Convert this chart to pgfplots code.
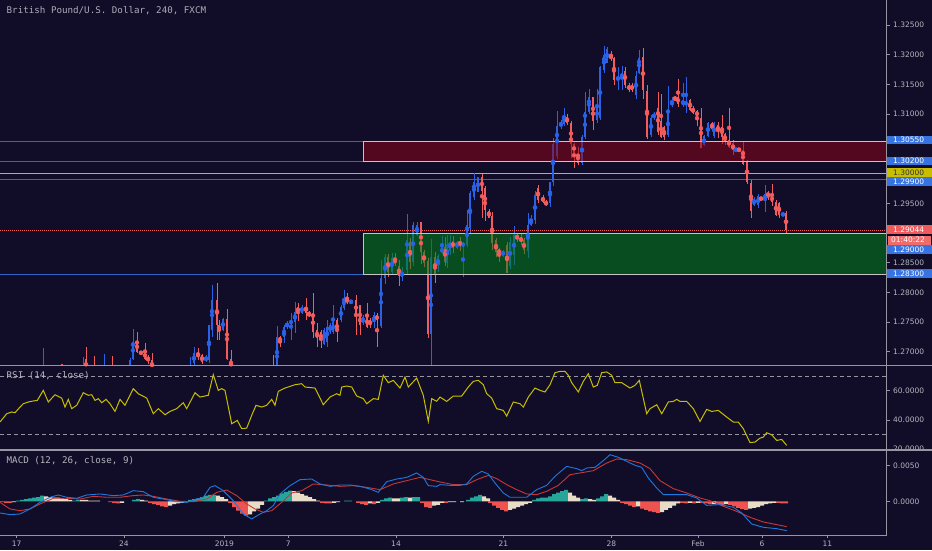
\documentclass[border=0pt]{standalone}
\usepackage{pgfplots}
\pgfplotsset{compat=1.18}
\usepackage{pgfplotstable}
\usepackage{fontspec}
\setmainfont{DejaVu Sans}
\newfontfamily\monofont{DejaVu Sans Mono}
\newcommand{\lab}{\fontsize{7.5}{9}\selectfont}
\newcommand{\mono}{\monofont\fontsize{9.2}{11}\selectfont}
\definecolor{bg}{RGB}{17,13,40}
\definecolor{upc}{RGB}{41,98,230}
\definecolor{dnc}{RGB}{242,92,92}
\definecolor{gbox}{RGB}{0,130,25}
\definecolor{rbox}{RGB}{140,5,25}
\definecolor{bline}{RGB}{50,100,200}
\definecolor{yline}{RGB}{200,190,0}
\definecolor{lgrey}{RGB}{180,180,190}
\definecolor{axgrey}{RGB}{150,150,160}
\definecolor{boxb}{RGB}{200,195,200}
\definecolor{lblue}{RGB}{55,115,225}
\definecolor{lred}{RGB}{240,90,90}
\definecolor{rsic}{RGB}{200,190,0}
\definecolor{macdc}{RGB}{30,120,225}
\definecolor{sigc}{RGB}{200,55,55}
\definecolor{hteal}{RGB}{38,166,154}
\definecolor{hcream}{RGB}{232,220,198}
\definecolor{hred}{RGB}{239,83,80}

\pgfplotstableread{
x o h l c
43 1.2660 1.2706 1.2640 1.2675
62 1.2679 1.2680 1.2650 1.2660
83 1.2660 1.2692 1.2650 1.2670
86 1.2688 1.2708 1.2650 1.2660
94 1.2675 1.2693 1.2650 1.2660
104 1.2660 1.2696 1.2650 1.2670
112 1.2672 1.2693 1.2650 1.2660
130 1.2660 1.2690 1.2650 1.2686
133 1.2688 1.2738 1.2686 1.2717
137 1.2717 1.2733 1.2698 1.2700
141 1.2700 1.2702 1.2695 1.2697
145 1.2700 1.2715 1.2686 1.2688
148 1.2692 1.2695 1.2680 1.2685
152 1.2686 1.2698 1.2660 1.2670
190 1.2660 1.2692 1.2650 1.2675
194 1.2681 1.2708 1.2670 1.2698
198 1.2698 1.2706 1.2686 1.2691
202 1.2695 1.2697 1.2680 1.2683
206 1.2685 1.2694 1.2683 1.2692
209 1.2686 1.2745 1.2681 1.2745
212 1.2737 1.2812 1.2725 1.2787
217 1.2787 1.2816 1.2720 1.2745
219 1.2745 1.2754 1.2720 1.2737
223 1.2737 1.2757 1.2735 1.2755
227 1.2755 1.2772 1.2686 1.2688
231 1.2688 1.2703 1.2660 1.2670
273 1.2675 1.2695 1.2650 1.2665
277 1.2660 1.2744 1.2655 1.2725
280 1.2725 1.2727 1.2708 1.2717
284 1.2725 1.2745 1.2715 1.2742
287 1.2742 1.2752 1.2738 1.2749
291 1.2749 1.2765 1.2720 1.2751
295 1.2751 1.2784 1.2732 1.2767
298 1.2776 1.2782 1.2752 1.2766
302 1.2766 1.2779 1.2763 1.2776
306 1.2776 1.2791 1.2754 1.2766
309 1.2766 1.2768 1.2758 1.2762
313 1.2765 1.2799 1.2723 1.2733
317 1.2737 1.2748 1.2708 1.2723
321 1.2733 1.2737 1.2707 1.2720
324 1.2714 1.2740 1.2712 1.2737
327 1.2717 1.2754 1.2708 1.2742
330 1.2733 1.2748 1.2730 1.2745
333 1.2733 1.2779 1.2730 1.2750
337 1.2753 1.2757 1.2717 1.2733
341 1.2754 1.2779 1.2750 1.2776
344 1.2774 1.2804 1.2770 1.2790
347 1.2789 1.2799 1.2780 1.2784
351 1.2784 1.2786 1.2782 1.2785
356 1.2787 1.2796 1.2728 1.2762
360 1.2779 1.2779 1.2728 1.2745
363 1.2749 1.2762 1.2745 1.2759
367 1.2759 1.2782 1.2740 1.2742
370 1.2754 1.2757 1.2740 1.2745
374 1.2750 1.2767 1.2740 1.2762
377 1.2762 1.2765 1.2708 1.2754
381 1.2743 1.2855 1.2740 1.2824
385 1.2824 1.2865 1.2815 1.2860
388 1.2860 1.2865 1.2826 1.2835
392 1.2835 1.2866 1.2830 1.2858
395 1.2858 1.2866 1.2845 1.2848
399 1.2845 1.2855 1.2810 1.2828
402 1.2826 1.2842 1.2820 1.2836
407 1.2838 1.2932 1.2830 1.2888
410 1.2885 1.2892 1.2839 1.2851
413 1.2851 1.2918 1.2845 1.2914
417 1.2896 1.2918 1.2895 1.2913
421 1.2918 1.2918 1.2848 1.2868
424 1.2868 1.2872 1.2843 1.2850
428 1.2853 1.2858 1.2723 1.2730
431 1.2730 1.2890 1.2668 1.2860
435 1.2860 1.2868 1.2816 1.2831
438 1.2844 1.2864 1.2835 1.2861
442 1.2866 1.2895 1.2864 1.2876
445 1.2876 1.2893 1.2845 1.2852
447 1.2849 1.2897 1.2842 1.2882
450 1.2870 1.2897 1.2863 1.2885
453 1.2887 1.2895 1.2866 1.2875
457 1.2875 1.2887 1.2873 1.2885
460 1.2886 1.2893 1.2870 1.2880
463 1.2879 1.2885 1.2826 1.2882
467 1.2880 1.2938 1.2876 1.2914
470 1.2909 1.2971 1.2900 1.2967
474 1.2960 1.3001 1.2955 1.2986
478 1.2969 1.2994 1.2969 1.2994
482 1.2995 1.2999 1.2925 1.2970
485 1.2976 1.2980 1.2921 1.2939
489 1.2937 1.2940 1.2925 1.2926
492 1.2928 1.2935 1.2872 1.2883
496 1.2888 1.2892 1.2860 1.2868
499 1.2872 1.2875 1.2852 1.2866
503 1.2862 1.2872 1.2860 1.2870
507 1.2880 1.2885 1.2832 1.2833
510 1.2845 1.2893 1.2840 1.2885
514 1.2863 1.2912 1.2846 1.2897
517 1.2897 1.2900 1.2885 1.2890
521 1.2891 1.2898 1.2880 1.2887
524 1.2888 1.2892 1.2865 1.2871
528 1.2870 1.2934 1.2858 1.2914
531 1.2914 1.2930 1.2912 1.2923
535 1.2922 1.2971 1.2915 1.2964
538 1.2976 1.2981 1.2950 1.2956
543 1.2961 1.2964 1.2950 1.2952
546 1.2953 1.2955 1.2945 1.2948
550 1.2950 1.2986 1.2944 1.2986
553 1.2986 1.3060 1.2980 1.3050
557 1.3030 1.3105 1.3025 1.3080
561 1.3080 1.3090 1.3075 1.3087
564 1.3084 1.3110 1.3080 1.3097
567 1.3095 1.3100 1.3082 1.3085
571 1.3085 1.3089 1.3026 1.3050
574 1.3050 1.3052 1.3010 1.3035
578 1.3035 1.3045 1.3015 1.3018
582 1.3018 1.3065 1.3015 1.3061
585 1.3061 1.3137 1.3058 1.3104
589 1.3104 1.3142 1.3100 1.3129
593 1.3129 1.3129 1.3073 1.3089
597 1.3090 1.3142 1.3085 1.3112
600 1.3094 1.3182 1.3090 1.3180
604 1.3175 1.3215 1.3170 1.3200
607 1.3186 1.3213 1.3186 1.3210
611 1.3200 1.3207 1.3190 1.3193
614 1.3195 1.3197 1.3150 1.3157
618 1.3157 1.3180 1.3141 1.3163
622 1.3160 1.3182 1.3141 1.3170
625 1.3173 1.3180 1.3145 1.3150
629 1.3150 1.3153 1.3137 1.3140
632 1.3150 1.3152 1.3138 1.3140
636 1.3132 1.3173 1.3125 1.3165
639 1.3170 1.3208 1.3168 1.3195
643 1.3196 1.3212 1.3125 1.3141
647 1.3140 1.3150 1.3058 1.3062
651 1.3065 1.3098 1.3062 1.3093
654 1.3093 1.3104 1.3091 1.3101
658 1.3110 1.3138 1.3065 1.3070
661 1.3088 1.3134 1.3060 1.3062
664 1.3078 1.3080 1.3056 1.3062
668 1.3065 1.3147 1.3062 1.3102
672 1.3116 1.3129 1.3112 1.3121
675 1.3129 1.3131 1.3122 1.3124
678 1.3129 1.3160 1.3113 1.3118
683 1.3115 1.3153 1.3112 1.3124
686 1.3115 1.3163 1.3102 1.3122
690 1.3124 1.3125 1.3105 1.3107
693 1.3111 1.3114 1.3100 1.3102
697 1.3105 1.3107 1.3080 1.3097
701 1.3094 1.3110 1.3043 1.3043
704 1.3048 1.3065 1.3046 1.3063
708 1.3063 1.3087 1.3062 1.3085
712 1.3085 1.3087 1.3073 1.3075
714 1.3063 1.3087 1.3060 1.3085
718 1.3082 1.3087 1.3060 1.3071
722 1.3079 1.3098 1.3050 1.3062
725 1.3067 1.3069 1.3048 1.3055
729 1.3057 1.3111 1.3043 1.3045
733 1.3051 1.3057 1.3031 1.3040
736 1.3040 1.3043 1.3037 1.3041
739 1.3041 1.3044 1.3036 1.3040
743 1.3040 1.3055 1.3014 1.3016
747 1.3020 1.3023 1.2982 1.2986
751 1.2985 1.2990 1.2925 1.2938
754 1.2948 1.2960 1.2946 1.2957
758 1.2948 1.2966 1.2942 1.2962
761 1.2959 1.2961 1.2955 1.2957
765 1.2956 1.2980 1.2935 1.2966
768 1.2968 1.2971 1.2955 1.2962
772 1.2962 1.2983 1.2945 1.2953
776 1.2953 1.2955 1.2928 1.2931
779 1.2951 1.2952 1.2926 1.2930
783 1.2930 1.2935 1.2928 1.2933
786 1.2934 1.2938 1.2900 1.29044
}\candles

\pgfplotstableread{
x v
2 -0.0001
6 -0.0002
10 -0.0002
110 -0.0001
114 -0.0002
118 -0.0003
150 -0.0002
154 -0.0004
158 -0.0005
162 -0.0007
166 -0.0008
230 -0.0002
234 -0.0008
238 -0.0013
242 -0.0017
246 -0.0020
322 -0.0002
326 -0.0003
330 -0.0003
358 -0.0002
362 -0.0004
366 -0.0005
374 -0.0004
422 -0.0002
426 -0.0008
430 -0.0009
446 -0.0002
490 -0.0002
494 -0.0006
498 -0.0009
502 -0.0012
506 -0.0014
622 -0.0002
626 -0.0004
630 -0.0006
634 -0.0008
642 -0.0010
646 -0.0012
650 -0.0014
654 -0.0015
658 -0.0016
682 -0.0002
686 -0.0003
694 -0.0003
702 -0.0002
706 -0.0003
710 -0.0004
718 -0.0004
722 -0.0005
730 -0.0005
734 -0.0007
738 -0.0009
742 -0.0011
746 -0.0012
778 -0.0002
782 -0.0003
786 -0.0003
}\histred

\pgfplotstableread{
x v
18 0.0001
22 0.0002
26 0.0003
30 0.0004
34 0.0005
38 0.0006
42 0.0008
74 0.0001
78 0.0002
134 0.0002
138 0.0003
190 0.0002
194 0.0003
198 0.0004
202 0.0006
206 0.0008
210 0.0009
214 0.0009
266 0.0001
270 0.0004
274 0.0006
278 0.0008
282 0.0011
286 0.0013
290 0.0015
346 0.0001
350 0.0001
382 0.0002
386 0.0004
390 0.0005
402 0.0005
406 0.0006
414 0.0006
418 0.0006
468 0.0002
472 0.0005
476 0.0007
480 0.0009
534 0.0002
538 0.0004
542 0.0005
546 0.0005
550 0.0007
554 0.0010
558 0.0012
562 0.0014
566 0.0016
582 0.0003
586 0.0004
598 0.0004
602 0.0007
606 0.0010
}\histteal

\pgfplotstableread{
x v
14 -0.0001
46 0.0007
50 0.0006
54 0.0005
58 0.0005
62 0.0004
66 0.0003
70 0.0002
82 0.0002
86 0.0002
90 0.0001
94 0.0001
98 0.0001
122 -0.0002
142 0.0002
146 0.0001
170 -0.0006
174 -0.0004
178 -0.0003
182 -0.0002
186 -0.0001
218 0.0008
222 0.0006
226 0.0003
250 -0.0018
254 -0.0014
258 -0.0010
262 -0.0005
294 0.0014
298 0.0012
302 0.0010
306 0.0008
310 0.0006
314 0.0003
318 0.0001
334 -0.0002
338 -0.0001
370 -0.0003
378 -0.0002
394 0.0004
398 0.0004
410 0.0005
434 -0.0006
438 -0.0005
442 -0.0002
450 -0.0001
454 -0.0001
462 -0.0001
484 0.0007
488 0.0004
510 -0.0012
514 -0.0010
518 -0.0008
522 -0.0006
526 -0.0004
530 -0.0002
570 0.0012
574 0.0008
578 0.0005
590 0.0003
594 0.0002
610 0.0008
614 0.0005
618 0.0002
638 -0.0007
662 -0.0015
666 -0.0012
670 -0.0009
674 -0.0006
678 -0.0003
690 -0.0002
698 -0.0002
714 -0.0004
726 -0.0004
750 -0.0010
754 -0.0009
758 -0.0008
762 -0.0006
766 -0.0004
770 -0.0003
774 -0.0002
}\histcream

\begin{document}
\begin{tikzpicture}
\useasboundingbox (0pt,0pt) rectangle (932pt,550pt);
\fill[bg] (0pt,0pt) rectangle (932pt,550pt);

% ---------------- main price panel ----------------
\begin{axis}[at={(0pt,185pt)}, anchor=south west, scale only axis,
  width=886.5pt, height=365pt, xmin=0, xmax=886.5,
  ymin=1.26778, ymax=1.32923, hide axis]
\draw[bline, line width=0.8pt] (axis cs:0,1.3055) -- (axis cs:886.5,1.3055);
\draw[bline, line width=0.8pt] (axis cs:0,1.3020) -- (axis cs:886.5,1.3020);
\draw[bline, line width=0.8pt] (axis cs:0,1.2830) -- (axis cs:886.5,1.2830);
\draw[bline, line width=0.8pt] (axis cs:0,1.2990) -- (axis cs:886.5,1.2990);
\draw[yline, line width=1.6pt] (axis cs:0,1.3000) -- (axis cs:886.5,1.3000);
% wicks
\addplot[upc, only marks, mark=none,
  x filter/.expression={\thisrow{c}>=\thisrow{o} ? x : nan},
  error bars/.cd, y dir=both, y explicit, error mark=none,
  error bar style={line width=0.8pt, upc}]
  table[x=x, y expr={(\thisrow{h}+\thisrow{l})/2}, y error expr={(\thisrow{h}-\thisrow{l})/2}] {\candles};
\addplot[dnc, only marks, mark=none,
  x filter/.expression={\thisrow{c}<\thisrow{o} ? x : nan},
  error bars/.cd, y dir=both, y explicit, error mark=none,
  error bar style={line width=0.8pt, dnc}]
  table[x=x, y expr={(\thisrow{h}+\thisrow{l})/2}, y error expr={(\thisrow{h}-\thisrow{l})/2}] {\candles};
% bodies
\addplot[upc, only marks, mark=none,
  x filter/.expression={\thisrow{c}>=\thisrow{o} ? x : nan},
  error bars/.cd, y dir=both, y explicit, error mark=none,
  error bar style={line width=2.6pt, upc}]
  table[x=x, y expr={(\thisrow{o}+\thisrow{c})/2}, y error expr={max(abs(\thisrow{c}-\thisrow{o})/2,0.00004)}] {\candles};
\addplot[dnc, only marks, mark=none,
  x filter/.expression={\thisrow{c}<\thisrow{o} ? x : nan},
  error bars/.cd, y dir=both, y explicit, error mark=none,
  error bar style={line width=2.6pt, dnc}]
  table[x=x, y expr={(\thisrow{o}+\thisrow{c})/2}, y error expr={max(abs(\thisrow{c}-\thisrow{o})/2,0.00004)}] {\candles};
% zones
\fill[gbox, opacity=0.55] (axis cs:363,1.2830) rectangle (axis cs:886.5,1.2900);
\draw[boxb, line width=0.8pt] (axis cs:363,1.2830) rectangle (axis cs:886.5,1.2900);
\fill[rbox, opacity=0.55] (axis cs:363,1.3020) rectangle (axis cs:886.5,1.3055);
\draw[boxb, line width=0.8pt] (axis cs:363,1.3020) rectangle (axis cs:886.5,1.3055);
\draw[dnc, line width=0.7pt, dash pattern=on 1pt off 1pt] (axis cs:0,1.29044) -- (axis cs:886.5,1.29044);
\end{axis}

% ---------------- RSI panel ----------------
\begin{axis}[at={(0pt,101pt)}, anchor=south west, scale only axis,
  width=886.5pt, height=83pt, xmin=0, xmax=886.5,
  ymin=19.7, ymax=76.9, hide axis]
\draw[axgrey, line width=0.8pt, dash pattern=on 4pt off 3pt] (axis cs:0,70) -- (axis cs:886.5,70);
\draw[axgrey, line width=0.8pt, dash pattern=on 4pt off 3pt] (axis cs:0,30) -- (axis cs:886.5,30);
\addplot[rsic, line width=1pt, mark=none] coordinates {
(0,38.3) (6.7,44.0) (11.7,45.2) (15,44.7) (20,48.6) (23.3,50.9) (28.3,52.1)
(33.3,52.8) (37.3,53.2) (43.3,60.1) (48.3,52.1) (55,57.1) (61.7,54.8) (65,48.6)
(68.3,53.9) (71.7,47.5) (76.7,49.8) (83.3,58.5) (88.3,56.7) (91.7,57.1) (95,53.2)
(98.3,54.4) (101.7,51.6) (106,53.9) (110,50.9) (115,45.6) (120,53.9) (125,49.8)
(133.3,61.3) (138.3,57.8) (146.7,54.8) (153.3,44.0) (158.3,47.5) (165,43.3)
(170,45.6) (176.7,47.5) (183.3,51.6) (186.7,47.5) (195,58.5) (200,55.5)
(208.3,56.7) (213.3,70.9) (218.3,60.1) (221.7,61.3) (225,60.1) (231.7,37.1)
(237.3,39.4) (241.7,33.7) (246.7,34.1) (251.7,42.9) (256,49.8) (261.7,48.6)
(266.7,49.8) (271.7,53.9) (275,49.8) (278.3,59.4) (285,61.7) (295,64.0)
(301.7,64.7) (305,62.4) (315,61.7) (323.3,50.2) (330,55.5) (336.7,57.8)
(340,56.7) (341.7,62.4) (346.7,63.1) (351.7,62.4) (356.7,56.2) (363.3,54.4)
(366.7,50.9) (373.3,54.4) (378.3,53.9) (383.3,70.5) (388.3,65.4) (393.3,67.0)
(400,61.7) (405,69.3) (408.3,62.4) (416.7,68.6) (423.3,56.7) (428.3,38.7)
(431.7,54.4) (436.7,52.6) (440,55.5) (446.7,52.5) (453.3,56.2) (461.7,56.2)
(468.3,62.4) (473.3,66.3) (478.3,67.0) (483.3,64.0) (486.7,57.8) (491.7,54.8)
(496.7,47.5) (503.3,46.3) (506.7,42.4) (513.3,52.1) (520,50.9) (523.3,48.6)
(528.3,55.5) (535,61.7) (540,60.1) (545,59.0) (550,64.0) (555,72.3) (560,73.2)
(565,73.2) (568.3,70.5) (571.7,65.4) (578.3,59.0) (583.3,66.3) (588.3,71.6)
(593.3,62.4) (597.3,63.6) (601.7,72.3) (606.7,72.8) (611.7,70.5) (615,65.4)
(621.7,65.4) (630,61.7) (635,63.6) (639.3,67.0) (646.7,44.0) (650,47.5)
(656.7,50.2) (661.7,44.0) (668.3,52.1) (673.3,52.5) (676.7,53.9) (680,52.5)
(686.7,52.5) (693.3,47.5) (700,38.7) (706.7,47.0) (711.7,45.6) (718.3,46.3)
(726.7,41.7) (733.3,38.3) (738.3,38.3) (743.3,33.7) (750,24.1) (755,24.5)
(760,27.2) (763.3,27.9) (766.7,30.9) (771.7,29.5) (776.7,25.6) (781.7,26.3)
(786.7,22.2)};
\end{axis}

% ---------------- MACD panel ----------------
\begin{axis}[at={(0pt,15pt)}, anchor=south west, scale only axis,
  width=886.5pt, height=85pt, xmin=0, xmax=886.5,
  ymin=-0.00468, ymax=0.00713, hide axis]
\addplot[ybar, bar width=4pt, bar shift=0pt, fill=hred, draw=none] table[x=x, y=v] {\histred};
\addplot[ybar, bar width=4pt, bar shift=0pt, fill=hteal, draw=none] table[x=x, y=v] {\histteal};
\addplot[ybar, bar width=4pt, bar shift=0pt, fill=hcream, draw=none] table[x=x, y=v] {\histcream};
\addplot[sigc, line width=0.9pt, mark=none] coordinates {
(0,-0.00014) (10,-0.00106) (20,-0.00130) (30,-0.00106) (40,-0.00037) (53.3,0.00042)
(66.7,0.00042) (80,0.00032) (93.3,0.00069) (106.7,0.00056) (120,0.00056)
(133.3,0.00079) (143.3,0.00088) (153.3,0.00069) (166.7,0.00032) (180,0.00000)
(193.3,-0.00005) (206.7,0.00032) (216.7,0.00125) (226.7,0.00157) (236.7,0.00079)
(246.7,-0.00037) (255,-0.00106) (263.3,-0.00153) (271.7,-0.00130) (281.7,-0.00014)
(291.7,0.00116) (301.7,0.00148) (313.3,0.00241) (326.7,0.00227) (340,0.00208)
(353.3,0.00218) (366.7,0.00194) (380,0.00162) (393.3,0.00241) (406.7,0.00287)
(420,0.00333) (430,0.00301) (440,0.00269) (453.3,0.00232) (466.7,0.00232)
(476.7,0.00301) (488.3,0.00361) (496.7,0.00315) (506.7,0.00232) (516.7,0.00162)
(526.7,0.00102) (536.7,0.00093) (546.7,0.00139) (558.3,0.00222) (570,0.00370)
(580,0.00394) (593.3,0.00426) (606.7,0.00532) (616.7,0.00588) (626.7,0.00579)
(640,0.00532) (650,0.00454) (660,0.00287) (673.3,0.00176) (686.7,0.00116)
(700,0.00046) (710,0.00009) (723.3,-0.00069) (736.7,-0.00139) (750,-0.00222)
(763.3,-0.00287) (776.7,-0.00324) (786.7,-0.00352)};
\addplot[macdc, line width=0.9pt, mark=none] coordinates {
(0,-0.00162) (10,-0.00185) (20,-0.00176) (30,-0.00106) (40,-0.00014) (50,0.00056)
(58.3,0.00088) (66.7,0.00056) (76.7,0.00042) (86.7,0.00088) (100,0.00102)
(113.3,0.00079) (123.3,0.00088) (133.3,0.00148) (143.3,0.00134) (153.3,0.00056)
(166.7,0.00023) (176.7,-0.00005) (186.7,-0.00014) (196.7,0.00032) (203.3,0.00056)
(210,0.00194) (215,0.00218) (223.3,0.00148) (233.3,0.00009) (243.3,-0.00176)
(251.7,-0.00245) (258.3,-0.00190) (266.7,-0.00130) (273.3,-0.00060) (280,0.00102)
(290,0.00218) (300,0.00301) (311.7,0.00310) (320,0.00241) (330,0.00208)
(340,0.00227) (350,0.00227) (360,0.00208) (370,0.00171) (378.3,0.00125)
(386.7,0.00273) (396.7,0.00310) (406.7,0.00333) (416.7,0.00394) (423.3,0.00333)
(428.3,0.00218) (436.7,0.00208) (440,0.00232) (450,0.00222) (460,0.00222)
(466.7,0.00241) (473.3,0.00347) (481.7,0.00417) (488.3,0.00380) (495,0.00255)
(503.3,0.00116) (510,0.00056) (518.3,0.00056) (526.7,0.00056) (536.7,0.00162)
(546.7,0.00222) (555,0.00347) (566.7,0.00486) (576.7,0.00454) (581.7,0.00426)
(586.7,0.00463) (595,0.00472) (603.3,0.00565) (610,0.00648) (618.3,0.00611)
(626.7,0.00556) (635,0.00500) (641.7,0.00472) (648.3,0.00324) (656.7,0.00185)
(663.3,0.00093) (673.3,0.00093) (686.7,0.00093) (696.7,0.00046) (706.7,-0.00056)
(720,-0.00046) (733.3,-0.00083) (741.7,-0.00162) (751.7,-0.00315) (763.3,-0.00361)
(776.7,-0.00380) (786.7,-0.00408)};
\end{axis}

% ---------------- frame ----------------
\draw[axgrey, line width=1.4pt] (0pt,184.5pt) -- (932pt,184.5pt);
\draw[axgrey, line width=2pt] (0pt,100.5pt) -- (932pt,100.5pt);
\draw[axgrey, line width=1.2pt] (0pt,14.3pt) -- (886.5pt,14.3pt);
\draw[axgrey, line width=1.2pt] (886.5pt,550pt) -- (886.5pt,14.3pt);

% bottom ticks and labels
\foreach \xx/\tt in {16.7/17, 124/24, 224.3/2019, 288.3/7, 396/14, 503.3/21, 611.3/28, 698/Feb, 762/6, 827.3/11}{
  \draw[axgrey, line width=0.8pt] (\xx pt,14.3pt) -- (\xx pt,12.3pt);
  \node[text=lgrey, font=\lab, inner sep=0pt] at (\xx pt,6.3pt) {\tt};
}

% right price labels
\foreach \yy/\tt in {524.9/1.32500, 495.2/1.32000, 465.5/1.31500, 435.8/1.31000, 346.7/1.29500, 287.3/1.28500, 257.6/1.28000, 227.9/1.27500, 198.2/1.27000, 159.3/60.0000, 130/40.0000, 84.7/0.0050, 48.7/0.0000}{
  \draw[axgrey, line width=0.8pt] (886.5pt,\yy pt) -- (890pt,\yy pt);
  \node[anchor=west, text=lgrey, font=\lab, inner sep=0pt] at (893pt,\yy pt) {\tt};
}
\begin{scope}
\clip (887pt,101.5pt) rectangle (932pt,110pt);
\node[anchor=west, text=lgrey, font=\lab, inner sep=0pt] at (893pt,101pt) {20.0000};
\end{scope}

% boxed labels
\foreach \yy/\cc/\tt in {410/lblue/1.30550, 389/lblue/1.30200, 368.5/lblue/1.29900, 320.5/lred/1.29044, 300.5/lblue/1.29000, 276.5/lblue/1.28300}{
  \fill[\cc] (887pt,\yy pt-4.25pt) rectangle (932pt,\yy pt+4.25pt);
  \node[anchor=west, text=white, font=\lab, inner sep=0pt] at (893pt,\yy pt) {\tt};
}
\fill[yline] (887pt,373.25pt) rectangle (932pt,381.75pt);
\node[anchor=west, text=black!80, font=\lab, inner sep=0pt] at (893pt,377.5pt) {1.30000};
\fill[lred!90!white] (888pt,305.5pt) rectangle (931pt,314.5pt);
\node[anchor=west, text=white, font=\lab, inner sep=0pt] at (891pt,310pt) {01:40:22};

% texts
\node[anchor=west, text=lgrey!110, font=\mono, inner sep=0pt] at (6.5pt,539.7pt) {British Pound/U.S. Dollar, 240, FXCM};
\node[anchor=west, text=lgrey, font=\mono, inner sep=0pt] at (6.5pt,174pt) {RSI (14, close)};
\node[anchor=west, text=lgrey, font=\mono, inner sep=0pt] at (6.5pt,89pt) {MACD (12, 26, close, 9)};
\end{tikzpicture}
\end{document}
